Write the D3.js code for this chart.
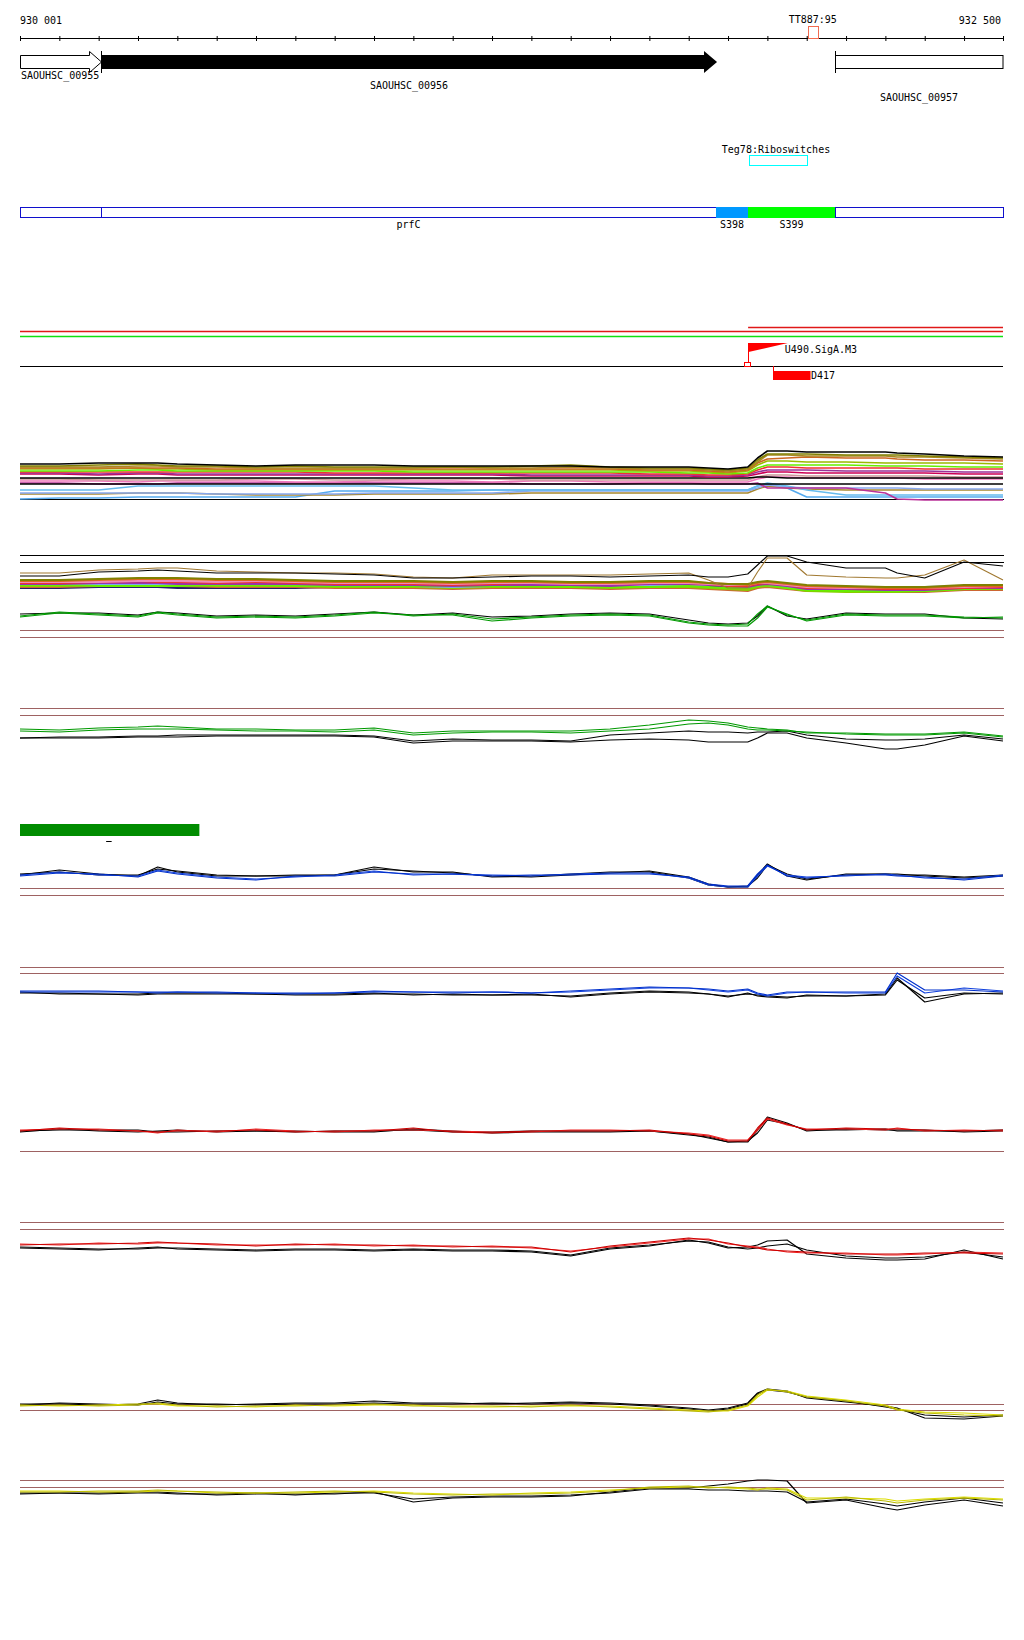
<!DOCTYPE html>
<html><head><meta charset="utf-8">
<script src="https://cdn.jsdelivr.net/npm/d3@7"></script>
<style>
body{margin:0;background:#fff}
text{font-family:"DejaVu Sans Mono","Liberation Mono",monospace;font-size:10px;fill:#000}
</style>
</head><body>
<svg id="c" width="1024" height="1640"></svg>
<script>
// ---------------- DATA ----------------
const START = 930001, END = 932500;
const tickOffsets = [0,100,200,300,400,500,600,700,800,900,1000,1100,1200,1300,1400,1500,1600,1700,1800,1900,2000,2100,2200,2300,2400,2499];
const positionOffsets = [0,100,200,300,350,400,500,600,700,800,900,1000,1100,1200,1300,1400,1500,1600,1700,1750,1800,1850,1875,1900,1950,2000,2100,2200,2230,2300,2400,2499];

const geneNames  = ["SAOUHSC_00955","SAOUHSC_00956","SAOUHSC_00957"];
const geneStarts = [930001, 930207, 932073];
const geneEnds   = [930207, 931773, 932500];

const segNames  = ["", "prfC", "S398", "S399", ""];
const segStarts = [930001, 930207, 931770, 931852, 932073];
const segEnds   = [930207, 931770, 931852, 932073, 932500];

const terminator = {name:"TT887:95", start:932004, end:932029};
const riboswitch = {name:"Teg78:Riboswitches", start:931854, end:932002};
const tss = {name:"U490.SigA.M3", pos:931852, flagEnd:931953};
const dFeature = {name:"D417", start:931915, end:932012};
const greenBar = {start:930001, end:930457};
const smallDash = {start:930220, end:930234};
const refLineStarts = [931852, 930001, 930001];

// Track A (multi-condition)
const A_blackTop = [41,41,42,42,42,41,40,39,40,40,40,39,39,39,39,39,38,38,38,37,36,38,47,54,54,53,53,53,52,51,49,48];
const A_olive = [39,39,40,41,40,39,39,38,39,38,38,38,38,38,39,40,38,37,37,36,35,37,45,51,51,51,50,50,50,49,48,47];
const A_goldenrod = [38,38,38,39,39,38,38,37,37,37,37,37,38,37,37,38,37,36,36,35,34,36,43,50,50,49,49,49,48,48,47,46];
const A_chocolate = [37,37,37,37,37,37,36,36,36,36,36,36,36,36,36,36,36,35,35,34,33,35,42,46,47,48,47,47,46,45,45,44];
const A_yellowgreen = [36,36,36,37,36,36,35,35,35,35,35,35,35,35,35,35,35,34,34,33,32,34,40,44,44,43,43,42,42,42,42,41];
const A_chartreuse = [34,34,34,35,35,34,34,34,34,34,34,33,33,33,33,33,33,33,32,32,31,32,37,40,40,40,40,39,39,39,38,38];
const A_red = [33,33,33,33,33,33,33,33,33,32,32,32,32,32,32,32,32,31,31,30,30,31,35,38,38,37,37,37,37,36,36,36];
const A_purple = [32,32,31,32,32,31,31,31,31,31,31,31,31,31,30,30,30,30,30,29,29,30,33,35,35,35,34,34,34,34,33,33];
const A_crimson = [31,31,30,31,31,30,30,30,30,30,30,30,30,30,29,29,29,29,29,28,28,29,31,33,33,32,32,32,32,32,31,31];
const A_blackMid1 = [27,27,27,27,27,27,27,27,27,27,27,27,27,27,27,27,27,27,27,27,27,27,28,28,27,27,27,27,27,27,27,27];
const A_rosy = [26,26,25,25,25,25,25,26,26,25,25,26,26,26,25,25,25,25,25,25,25,25,28,30,30,29,29,29,29,29,28,28];
const A_pink = [24,24,24,23,24,24,24,24,23,23,24,24,24,23,24,24,23,23,23,23,23,23,26,28,28,27,27,27,27,26,26,26];
const A_blackMid2 = [21,21,21,21,21,21,21,21,21,21,21,21,21,21,21,21,21,21,21,21,21,21,21,21,21,21,21,21,21,21,21,21];
const A_magenta = [22,22,21,21,21,22,22,22,22,22,22,22,22,22,21,21,21,22,22,21,21,21,22,17,17,17,17,12,6,5,5,5];
const A_lightblue = [15,15,15,19,19,19,19,19,19,19,19,17,15,15,15,15,15,15,15,15,15,15,19,22,19,15,10,10,10,10,10,10];
const A_cornflower = [12,12,12,12,12,12,11,11,11,11,12,12,12,12,14,14,14,14,14,14,14,14,17,20,18,17,17,17,17,16,16,16];
const A_goldenrod2 = [11,11,11,12,12,12,11,10,10,10,11,11,11,11,12,12,12,12,12,12,12,12,16,19,17,16,15,15,15,15,15,15];
const A_skyblue = [6,7,7,8,8,8,8,8,8,14,14,14,14,15,15,15,15,15,15,15,15,15,19,21,17,8,8,8,8,8,8,8];
const A_thresholds = [6];

// Track B (multi-condition)
const B_black = [24,24,28,29,30,29,27,27,27,26,25,22,22,23,24,24,23,24,25,23,23,26,35,44,44,38,32,32,27,22,38,34];
const B_brown = [27,27,30,31,32,32,29,28,27,27,26,23,22,25,25,25,25,26,27,20,12,12,28,42,42,25,23,22,22,25,40,20];
const B_orange = [19,19,20,21,21,21,20,20,19,18,18,18,17,18,18,17,17,18,18,17,16,15,17,18,16,14,13,12,12,12,14,14];
const B_red = [17,17,18,19,18,18,17,18,17,16,16,16,15,16,17,17,16,17,17,16,14,14,16,17,15,12,12,11,11,11,12,13];
const B_purple = [16,16,17,17,17,16,16,16,16,15,15,15,14,15,15,15,14,16,16,15,14,13,15,16,14,11,11,10,10,10,12,12];
const B_lightblue = [15,15,16,16,16,15,15,15,15,14,14,14,13,14,14,14,13,14,15,16,15,14,16,15,13,12,13,13,13,13,14,14];
const B_yellowgreen = [14,14,15,15,15,15,14,14,14,13,13,13,12,13,13,13,12,13,13,12,11,10,13,14,12,9,8,8,8,9,11,11];
const B_chocolate = [13,13,14,14,14,14,13,13,13,12,12,12,11,12,12,12,11,12,12,11,10,9,12,13,11,9,9,8,8,8,10,10];
const B_pink = [18,18,18,19,19,19,18,19,18,17,17,17,16,17,17,16,16,17,17,16,15,15,17,17,15,13,12,12,12,12,13,14];
const B_olive = [20,20,21,22,22,22,21,21,20,19,19,19,18,19,19,18,18,19,19,17,16,16,18,19,17,15,14,13,13,13,15,15];
const B_navy = [12,12,13,13,13,12,12,12,12,13,13,13,13,13,13,13,13,13,13,13,13,12,13,14,12,10,10,10,10,10,11,11];
const B_chartreuse = [15,15,14,14,14,14,15,15,14,14,14,14,14,14,14,13,13,13,14,13,12,12,14,15,12,10,9,9,9,9,11,12];
const B_thresholds = [45,38];

// Track B2
const B2_green1 = [24,28,26,24,28,26,23,24,23,25,28,24,26,21,23,25,26,25,18,16,15,16,26,34,25,20,26,25,25,25,23,22];
const B2_green2 = [23,27,25,23,27,25,22,23,22,24,27,25,25,19,22,24,25,24,17,15,14,14,22,33,26,19,25,24,24,24,22,23];
const B2_black = [26,27,27,25,28,27,24,25,24,26,28,25,27,23,24,26,27,26,20,17,16,17,24,34,24,21,27,26,26,26,22,21];
const B2_thresholds = [10,3];

// Track C
const C_green1 = [31,30,32,33,34,33,31,31,30,30,32,27,29,29,29,29,31,35,40,39,37,33,32,31,30,27,27,26,26,26,28,24];
const C_green2 = [29,28,30,31,31,31,30,29,29,28,30,25,27,28,28,27,29,31,36,37,35,31,30,30,29,28,26,25,25,25,27,23];
const C_black1 = [22,23,23,24,24,25,25,25,25,25,24,19,21,20,20,19,25,27,29,28,28,27,28,28,29,25,21,20,20,21,25,21];
const C_black2 = [22,22,22,23,23,23,24,24,24,24,23,17,19,19,19,18,20,21,20,18,18,18,22,27,27,22,17,11,11,15,24,19];
const C_thresholds = [52,45];

// Track D
const D_black1 = [15,20,16,14,23,18,14,14,14,15,23,18,18,13,14,16,18,18,12,5,3,3,15,26,14,10,16,16,15,15,13,15];
const D_black2 = [16,18,15,15,21,19,15,14,15,15,21,19,17,14,13,15,17,19,13,6,3,4,12,25,16,11,15,16,16,14,12,14];
const D_blue1 = [14,17,16,13,19,16,12,10,14,14,18,16,16,14,15,15,16,16,13,6,4,4,16,25,14,12,15,15,14,13,10,14];
const D_blue2 = [15,18,15,14,20,17,13,11,13,15,19,15,16,15,14,16,17,17,12,5,3,3,14,24,15,13,14,16,15,12,11,15];
const D_thresholds = [2,-5];

// Track E
const E_blue1 = [19,19,19,18,18,18,18,17,17,17,19,18,18,18,17,19,21,23,22,21,19,21,17,15,18,18,18,18,37,20,20,18];
const E_blue2 = [18,18,18,18,17,18,17,17,16,17,18,18,17,18,17,18,20,22,22,20,18,20,16,14,17,18,17,17,34,17,22,19];
const E_black1 = [18,16,16,16,17,17,17,16,16,16,17,15,16,15,16,13,16,18,17,16,13,17,14,13,12,15,14,16,32,8,16,17];
const E_black2 = [17,17,16,15,16,16,16,16,15,15,16,16,15,15,15,14,17,19,18,16,14,16,15,14,13,14,14,15,30,12,17,16];
const E_thresholds = [43,37];

// Track F
const F_red1 = [29,32,30,29,28,29,29,30,28,29,29,32,28,27,29,29,29,30,26,24,19,19,32,42,36,30,32,31,31,30,29,30];
const F_red2 = [30,31,31,29,27,30,28,31,29,28,30,30,29,28,28,30,30,29,27,25,20,20,30,41,35,31,31,30,32,29,30,29];
const F_black1 = [28,31,29,28,29,30,28,29,29,28,28,31,29,27,28,28,28,29,25,23,18,18,30,43,37,29,31,30,30,30,28,29];
const F_black2 = [29,30,30,30,28,28,29,29,28,29,29,30,28,28,29,29,29,29,26,22,18,19,27,40,36,30,30,31,29,29,29,30];
const F_thresholds = [9];

// Track G
const G_red1 = [25,26,26,27,28,27,26,24,26,25,25,24,24,23,23,18,24,28,32,30,27,23,22,20,19,18,16,16,16,17,17,16];
const G_red2 = [26,25,27,26,27,27,25,25,25,26,24,25,23,24,22,19,23,27,31,31,26,24,23,21,18,17,17,15,15,16,18,17];
const G_black1 = [22,21,20,22,23,21,20,19,20,20,19,20,19,19,18,14,21,24,30,27,22,23,25,29,30,16,12,10,10,11,20,11];
const G_black2 = [23,22,21,21,22,22,21,20,21,21,20,21,20,20,19,15,22,25,29,28,23,21,22,24,26,20,14,12,12,13,18,13];
const G_thresholds = [48,41];

// Track H
const H_yellow1 = [19,20,19,20,22,20,18,19,19,20,21,19,19,19,18,20,18,16,14,13,15,20,30,36,33,28,24,19,15,12,10,9];
const H_yellow2 = [20,19,20,21,21,19,19,18,20,19,20,20,18,18,19,19,19,17,15,14,14,19,28,35,34,29,25,20,16,13,12,10];
const H_black1 = [21,21,20,21,25,22,20,21,22,22,24,22,22,21,22,23,22,20,17,15,17,22,32,36,34,27,23,19,17,7,6,9];
const H_black2 = [20,22,21,20,23,21,21,20,21,21,22,21,21,22,21,22,21,19,16,14,16,21,31,35,33,28,24,18,16,10,8,10];
const H_thresholds = [21,15];

// Track I
const I_yellow1 = [28,28,29,29,30,29,28,27,28,29,28,26,25,26,26,27,29,33,34,32,33,32,31,31,30,20,23,19,17,20,22,20];
const I_yellow2 = [29,29,28,28,29,29,27,27,27,28,29,27,26,25,27,28,30,32,33,33,32,31,30,32,31,22,22,21,19,21,23,21];
const I_black1 = [26,27,27,28,28,27,25,26,26,26,28,18,22,23,23,24,28,32,32,34,36,39,40,40,39,17,20,12,10,15,20,14];
const I_black2 = [27,27,26,27,27,26,26,27,25,27,27,21,23,24,24,25,27,31,31,30,30,29,29,29,28,18,21,16,14,18,22,17];
const I_thresholds = [40,33];

// ---------------- DRAWING ----------------
const svg = d3.select("#c");
const x = d3.scaleLinear().domain([START, END]).range([20, 1003]);
const px = v => Math.round(x(v)) + 0.5;
const fmt = d3.formatLocale({thousands:" ", grouping:[3], decimal:".", currency:["",""]}).format(",");

// ruler
const axis = d3.axisBottom(x).tickValues(tickOffsets.map(o => START + o)).tickSize(5).tickSizeOuter(0).tickFormat("");
const gAx = svg.append("g").attr("transform","translate(0,36)").call(axis);
gAx.select(".domain").remove();
gAx.selectAll(".tick line").attr("stroke","#000");
svg.append("line").attr("x1",x(START)).attr("x2",x(END)+1).attr("y1",38.5).attr("y2",38.5).attr("stroke","#000");
svg.append("text").attr("x",x(START)).attr("y",24).text(fmt(START));
svg.append("text").attr("x",x(END)-2).attr("y",24).attr("text-anchor","end").text(fmt(END));

// terminator
svg.append("rect").attr("x",px(terminator.start)).attr("y",26.5)
  .attr("width",Math.round(x(terminator.end)-x(terminator.start))).attr("height",12)
  .attr("fill","none").attr("stroke","#f26b50");
svg.append("text").attr("x",(x(terminator.start)+x(terminator.end))/2).attr("y",23).attr("text-anchor","middle").text(terminator.name);

// genes
const head = 12;
const g0s = x(geneStarts[0]), g0e = x(geneEnds[0]);
svg.append("path").attr("d",`M${g0s+0.5},55.5H${g0e-head+0.5}V51.5L${g0e+0.5},62L${g0e-head+0.5},72.5V68.5H${g0s+0.5}Z`)
  .attr("fill","#fff").attr("stroke","#000");
const g1s = x(geneStarts[1]), g1e = x(geneEnds[1]);
svg.append("path").attr("d",`M${g1s},55H${g1e-13}V51L${g1e},62L${g1e-13},73V69H${g1s}Z`).attr("fill","#000");
svg.append("line").attr("x1",px(geneStarts[1])).attr("x2",px(geneStarts[1])).attr("y1",51).attr("y2",73).attr("stroke","#000");
const g2s = px(geneStarts[2]), g2e = x(geneEnds[2]);
svg.append("rect").attr("x",g2s).attr("y",55.5).attr("width",g2e-g2s).attr("height",13).attr("fill","#fff").attr("stroke","#000");
svg.append("line").attr("x1",g2s).attr("x2",g2s).attr("y1",51).attr("y2",73).attr("stroke","#000");
const labelY = [79, 89, 101];
geneNames.forEach((n,i) => {
  const t = svg.append("text").attr("y",labelY[i]).text(n);
  if (i === 0) t.attr("x", x(geneStarts[0]) + 1);
  else t.attr("x",(x(geneStarts[i])+x(geneEnds[i]))/2).attr("text-anchor","middle");
});

// riboswitch
svg.append("rect").attr("x",px(riboswitch.start)).attr("y",155.5)
  .attr("width",Math.round(x(riboswitch.end)-x(riboswitch.start))).attr("height",10)
  .attr("fill","none").attr("stroke","#00ffff");
svg.append("text").attr("x",776).attr("y",153).attr("text-anchor","middle").text(riboswitch.name);

// segments track
const segFill = ["none","none","#0099ff","#00ff00","none"];
segNames.forEach((n,i) => {
  const a = x(segStarts[i]), b = x(segEnds[i]);
  if (segFill[i] !== "none") {
    svg.append("rect").attr("x",Math.round(a)).attr("y",207).attr("width",Math.round(b)-Math.round(a)+1).attr("height",11).attr("fill",segFill[i]);
  } else {
    svg.append("rect").attr("x",Math.round(a)+0.5).attr("y",207.5).attr("width",Math.round(b)-Math.round(a)).attr("height",10)
      .attr("fill","none").attr("stroke","#1010cc");
  }
  if (n) svg.append("text").attr("x",(a+b)/2).attr("y",228).attr("text-anchor","middle").text(n);
});

// reference lines
const refColors = ["#e01818","#e01818","#10e010"];
const refY = [327.5, 331.5, 336.5];
refLineStarts.forEach((s,i) => {
  svg.append("line").attr("x1",x(s)).attr("x2",x(END)).attr("y1",refY[i]).attr("y2",refY[i]).attr("stroke",refColors[i]).attr("stroke-width",1.3);
});
svg.append("line").attr("x1",x(START)).attr("x2",x(END)).attr("y1",366.5).attr("y2",366.5).attr("stroke","#000");

// TSS flag
const tx = px(tss.pos), tfe = x(tss.flagEnd);
svg.append("line").attr("x1",tx).attr("x2",tx).attr("y1",343).attr("y2",363).attr("stroke","#ff0000");
svg.append("path").attr("d",`M${tx},343H${tfe}L${tx},352Z`).attr("fill","#ff0000");
svg.append("rect").attr("x",tx-4).attr("y",362.5).attr("width",6).attr("height",4).attr("fill","none").attr("stroke","#ff0000");
svg.append("text").attr("x",tfe-3).attr("y",353).text(tss.name);

// D417
const dx0 = px(dFeature.start), dx1 = x(dFeature.end);
svg.append("line").attr("x1",dx0).attr("x2",dx0).attr("y1",366).attr("y2",373).attr("stroke","#ff0000");
svg.append("rect").attr("x",dx0-0.5).attr("y",371).attr("width",dx1-dx0).attr("height",9).attr("fill","#ff0000");
svg.append("text").attr("x",dx1).attr("y",379).text(dFeature.name);

// green bar + dash
svg.append("rect").attr("x",x(greenBar.start)).attr("y",824).attr("width",x(greenBar.end)-x(greenBar.start)).attr("height",12).attr("fill","#008c00");
svg.append("line").attr("x1",x(smallDash.start)).attr("x2",x(smallDash.end)).attr("y1",841.5).attr("y2",841.5).attr("stroke","#000");

// profile tracks
const BROWN = "#9e6262";
function drawTrack(base, series, thresholds, thrColor, width) {
  const y = d3.scaleLinear().domain([0, 60]).range([base, base - 60]);
  thresholds.forEach(t => {
    svg.append("line").attr("x1",x(START)).attr("x2",x(END)+1).attr("y1",Math.round(y(t))+0.5).attr("y2",Math.round(y(t))+0.5)
      .attr("stroke",thrColor).attr("shape-rendering","crispEdges");
  });
  const line = d3.line().x((d,i) => x(START + positionOffsets[i])).y(d => y(d));
  series.forEach(s => {
    svg.append("path").attr("d",line(s.values)).attr("fill","none").attr("stroke",s.color).attr("stroke-width",s.w || width)
      .attr("stroke-linejoin","round");
  });
}

drawTrack(505, [
  {values:A_skyblue,color:"#55aaee"},{values:A_goldenrod2,color:"#a8882e"},{values:A_cornflower,color:"#88a8ee"},
  {values:A_lightblue,color:"#66bbee"},{values:A_magenta,color:"#bb3399"},{values:A_blackMid2,color:"#000"},
  {values:A_pink,color:"#ee77bb"},{values:A_rosy,color:"#cc9999"},{values:A_blackMid1,color:"#000"},
  {values:A_crimson,color:"#cc0055"},{values:A_purple,color:"#993399"},{values:A_red,color:"#ee3333"},
  {values:A_chartreuse,color:"#66ee00"},{values:A_yellowgreen,color:"#99bb00"},{values:A_chocolate,color:"#cc6622"},
  {values:A_goldenrod,color:"#aa8822"},{values:A_olive,color:"#808000"},{values:A_blackTop,color:"#000"}
], A_thresholds, "#000", 1.6);

drawTrack(600, [
  {values:B_navy,color:"#222266",w:2},{values:B_chocolate,color:"#cc6633",w:2},{values:B_yellowgreen,color:"#88cc00",w:2},
  {values:B_lightblue,color:"#77aaee",w:2},{values:B_chartreuse,color:"#66ee00",w:2},{values:B_purple,color:"#9933aa",w:2},
  {values:B_red,color:"#ee3333",w:2},{values:B_pink,color:"#ee88bb",w:2},{values:B_orange,color:"#dd6622",w:2},
  {values:B_olive,color:"#808000",w:2},{values:B_brown,color:"#a07830"},{values:B_black,color:"#000"}
], B_thresholds, "#000", 1.1);

drawTrack(640, [
  {values:B2_black,color:"#000"},{values:B2_green2,color:"#009900"},{values:B2_green1,color:"#009900"}
], B2_thresholds, BROWN, 1.2);

drawTrack(760, [
  {values:C_black2,color:"#000"},{values:C_black1,color:"#000"},{values:C_green2,color:"#009900"},{values:C_green1,color:"#009900"}
], C_thresholds, BROWN, 1.2);

drawTrack(890, [
  {values:D_black2,color:"#000"},{values:D_black1,color:"#000"},{values:D_blue2,color:"#1040dd"},{values:D_blue1,color:"#0030cc"}
], D_thresholds, BROWN, 1.2);

drawTrack(1010, [
  {values:E_black2,color:"#000"},{values:E_black1,color:"#000"},{values:E_blue2,color:"#1040dd"},{values:E_blue1,color:"#0030cc"}
], E_thresholds, BROWN, 1.2);

drawTrack(1160, [
  {values:F_black2,color:"#000"},{values:F_black1,color:"#000"},{values:F_red2,color:"#ee2222"},{values:F_red1,color:"#cc0000"}
], F_thresholds, BROWN, 1.2);

drawTrack(1270, [
  {values:G_black2,color:"#000"},{values:G_black1,color:"#000"},{values:G_red2,color:"#ee2222"},{values:G_red1,color:"#cc0000"}
], G_thresholds, BROWN, 1.2);

drawTrack(1425, [
  {values:H_black2,color:"#000"},{values:H_black1,color:"#000"},{values:H_yellow2,color:"#dddd00"},{values:H_yellow1,color:"#bbbb00"}
], H_thresholds, BROWN, 1.2);

drawTrack(1520, [
  {values:I_black2,color:"#000"},{values:I_black1,color:"#000"},{values:I_yellow2,color:"#dddd00"},{values:I_yellow1,color:"#bbbb00"}
], I_thresholds, BROWN, 1.2);
</script>
</body></html>
